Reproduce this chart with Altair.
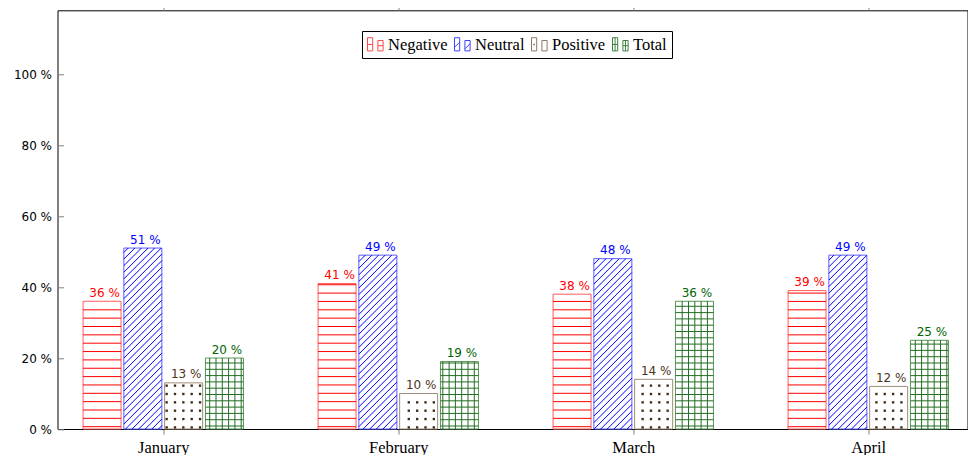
import json
import math
import altair as alt
import pandas as pd

# ---------------- data ----------------
months = ["January", "February", "March", "April"]
series = ["Negative", "Neutral", "Positive", "Total"]
negative = [36, 41, 38, 39]
neutral = [51, 49, 48, 49]
positive = [13, 10, 14, 12]
total = [20, 19, 36, 25]
y_ticks = [0, 20, 40, 60, 80, 100]

values_by_series = {"Negative": negative, "Neutral": neutral, "Positive": positive, "Total": total}

# ---------------- styles ----------------
edge_color = {"Negative": "#ff5c5c", "Neutral": "#5c5cff", "Positive": "#a08c78", "Total": "#5a965a"}
fill_color = {"Negative": "#ff0000", "Neutral": "#0000ff", "Positive": "#3d2b1a", "Total": "#236e23"}
label_color = {"Negative": "#ff0000", "Neutral": "#0000ff", "Positive": "#4d3319", "Total": "#006400"}
legend_color = ["#ff4a4a", "#4040ff", "#8c7864", "#3f823f"]

PX_X = 235.0          # pixels per month step
W, H = 910.0, 418.7
XMIN = -0.45
XMAX = XMIN + W / PX_X
YMAX = 118.0
PX_Y = H / YMAX
STEP = 40.8 / PX_X
BW = 38.0 / PX_X

# ---------------- tables ----------------
bars = []
for i, m in enumerate(months):
    for j, s in enumerate(series):
        v = values_by_series[s][i]
        xc = i + (j - 1.5) * STEP
        bars.append(dict(month=m, series=s, value=v, xc=xc, xl=xc - BW / 2, xr=xc + BW / 2,
                         edge=edge_color[s], pat=fill_color[s], lab=label_color[s],
                         text=f"{v} %"))
bars_df = pd.DataFrame(bars)


def to_x(u):
    return u / PX_X + XMIN


def to_y(v):
    return v / PX_Y


rules = []
dots = []
for b in bars:
    ul = (b["xl"] - XMIN) * PX_X
    ur = (b["xr"] - XMIN) * PX_X
    vh = b["value"] * PX_Y
    s = b["series"]
    col = b["pat"]
    if s == "Negative":
        k = 0
        while True:
            v = 2.3 + 8.35 * k
            if v > vh - 0.8:
                break
            rules.append(dict(x=b["xl"], x2=b["xr"], y=to_y(v), y2=to_y(v), c=col))
            k += 1
    elif s == "Neutral":
        sp, ph = 6.6, 2.0
        k0 = math.floor((ul - vh - ph) / sp) - 1
        k1 = math.ceil((ur - ph) / sp) + 1
        for k in range(k0, k1 + 1):
            c = ph + sp * k
            u0 = max(ul, c)
            u1 = min(ur, c + vh)
            if u1 - u0 > 0.3:
                rules.append(dict(x=to_x(u0), x2=to_x(u1), y=to_y(u0 - c), y2=to_y(u1 - c), c=col))
    elif s == "Total":
        sp = 6.3
        k = 0
        while True:
            v = 3.0 + sp * k
            if v > vh - 0.8:
                break
            rules.append(dict(x=b["xl"], x2=b["xr"], y=to_y(v), y2=to_y(v), c=col))
            k += 1
        k = math.ceil((ul + 0.8 - 1.0) / sp)
        while True:
            u = 1.0 + sp * k
            if u > ur - 0.8:
                break
            rules.append(dict(x=to_x(u), x2=to_x(u), y=0, y2=b["value"], c=col))
            k += 1
    elif s == "Positive":
        sp = 8.35
        ku = math.ceil((ul + 1.2 - 0.6) / sp)
        while True:
            u = 0.6 + sp * ku
            if u > ur - 1.2:
                break
            kv = 0
            while True:
                v = 1.6 + sp * kv
                if v > vh - 1.5:
                    break
                dots.append(dict(x=to_x(u), y=to_y(v), c=col))
                kv += 1
            ku += 1

rules_df = pd.DataFrame(rules)
dots_df = pd.DataFrame(dots)

# legend symbols: two small bars, like a ybar legend image
R = "M-1,-0.85H-0.35V0.8H-1Z M0.3,-0.5H0.95V0.8H0.3Z"
legend_paths = [
    R + " M-1,0H-0.35 M0.3,0.15H0.95",
    R + " M-1,0.35L-0.35,-0.3 M0.3,0.55L0.95,-0.1",
    R + " M-0.72,-0.06H-0.62V0.06H-0.72Z",
    R + " M-1,0H-0.35 M0.3,0.15H0.95 M-0.68,-0.85V0.8 M0.62,-0.5V0.8",
]

xscale = alt.Scale(domain=[XMIN, XMAX], nice=False, zero=False)
yscale = alt.Scale(domain=[0, YMAX], nice=False, zero=True)

month_expr = json.dumps(months) + "[round(datum.value)]"

x_bottom = alt.Axis(values=[0, 1, 2, 3], labelExpr=month_expr, orient="bottom", tickSize=5,
                    tickColor="#808080", domain=False, grid=False, labelFont="Liberation Serif",
                    labelFontSize=16.5, labelColor="black", labelPadding=5, title=None)
x_top = alt.Axis(values=[0, 1, 2, 3], orient="top", tickSize=7, tickColor="#808080",
                 labels=False, domain=False, grid=False, title=None)
y_left = alt.Axis(values=y_ticks, labelExpr="datum.value + ' %'", orient="left", offset=-6,
                  tickSize=6, tickColor="#808080", domain=False, grid=False,
                  labelFont="DejaVu Sans", labelFontSize=12, labelColor="black",
                  labelPadding=6, title=None)

bar_layer = alt.Chart(bars_df).mark_rect(fill="white", strokeWidth=1).encode(
    x=alt.X("xl:Q", scale=xscale, axis=x_bottom),
    x2="xr:Q",
    y=alt.Y("value:Q", scale=yscale, axis=y_left),
    y2=alt.Y2(datum=0),
    stroke=alt.Stroke("edge:N", scale=None),
)

rule_layer = alt.Chart(rules_df).mark_rule(strokeWidth=1).encode(
    x=alt.X("x:Q", scale=xscale, axis=None),
    x2="x2:Q",
    y=alt.Y("y:Q", scale=yscale, axis=None),
    y2="y2:Q",
    color=alt.Color("c:N", scale=None),
)

dot_layer = alt.Chart(dots_df).mark_square(size=5.5, opacity=1).encode(
    x=alt.X("x:Q", scale=xscale, axis=None),
    y=alt.Y("y:Q", scale=yscale, axis=None),
    color=alt.Color("c:N", scale=None),
)

text_layer = alt.Chart(bars_df).mark_text(font="DejaVu Sans", fontSize=12, baseline="alphabetic",
                                          align="center", dx=2.5, dy=-4.5).encode(
    x=alt.X("xc:Q", scale=xscale, axis=x_top),
    y=alt.Y("value:Q", scale=yscale, axis=None),
    text="text:N",
    color=alt.Color("lab:N", scale=None),
)

legend_layer = alt.Chart(bars_df).mark_point(opacity=0, filled=False).encode(
    x=alt.X("xc:Q", scale=xscale, axis=None),
    y=alt.Y("value:Q", scale=yscale, axis=None),
    color=alt.Color("series:N", scale=alt.Scale(domain=series, range=legend_color),
                    legend=alt.Legend(title=None, orient="none", legendX=304.5, legendY=20.7,
                                      direction="horizontal", columns=4, padding=5,
                                      strokeColor="black", fillColor="white",
                                      labelFont="Liberation Serif", labelFontSize=16.5,
                                      labelColor="black", labelOffset=4, columnPadding=4,
                                      symbolSize=256, symbolStrokeWidth=1, symbolOpacity=1,
                                      labelLimit=0)),
    shape=alt.Shape("series:N", scale=alt.Scale(domain=series, range=legend_paths)),
)

chart = alt.layer(bar_layer, rule_layer, dot_layer, text_layer, legend_layer).resolve_axis(
    x="independent", y="independent"
).properties(
    width=W, height=H,
    autosize=alt.AutoSizeParams(type="none"),
    padding={"left": 49.5, "top": 2.3, "right": 0.5, "bottom": 26},
    background="white",
).configure_view(stroke="black", strokeWidth=1)

chart.save("out.html", embed_options={"renderer": "svg", "actions": False})
